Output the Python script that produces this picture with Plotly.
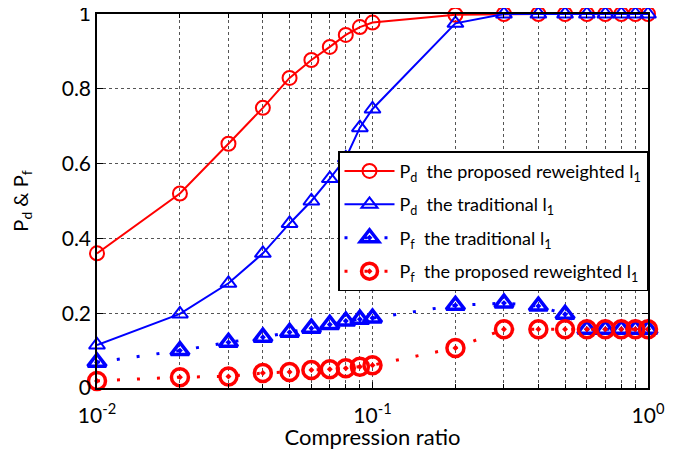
import plotly.graph_objects as go

ratio = [0.01, 0.02, 0.03, 0.04, 0.05, 0.06, 0.07, 0.08, 0.09, 0.1,
         0.2, 0.3, 0.4, 0.5, 0.6, 0.7, 0.8, 0.9, 1.0]
pd_proposed = [0.36, 0.52, 0.653, 0.749, 0.829, 0.877, 0.912, 0.944, 0.965, 0.977,
               0.998, 1.0, 1.0, 1.0, 1.0, 1.0, 1.0, 1.0, 1.0]
pd_traditional = [0.115, 0.198, 0.28, 0.36, 0.44, 0.50, 0.56, 0.615, 0.696, 0.746,
                  0.975, 1.0, 1.0, 1.0, 1.0, 1.0, 1.0, 1.0, 1.0]
pf_traditional = [0.069, 0.10, 0.122, 0.136, 0.149, 0.16, 0.17, 0.179, 0.184, 0.187,
                  0.221, 0.227, 0.219, 0.197, 0.157, 0.157, 0.157, 0.157, 0.157]
pf_proposed = [0.019, 0.029, 0.031, 0.04, 0.043, 0.048, 0.05, 0.053, 0.057, 0.061,
               0.107, 0.157, 0.157, 0.157, 0.157, 0.157, 0.157, 0.157, 0.157]

names = ["P<sub>d</sub>  the proposed reweighted l<sub>1</sub>",
         "P<sub>d</sub>  the traditional l<sub>1</sub>",
         "P<sub>f</sub>  the traditional l<sub>1</sub>",
         "P<sub>f</sub>  the proposed reweighted l<sub>1</sub>"]

xtick_vals = [0.01, 0.1, 1]
xtick_text = ["10<sup>-2</sup>", "10<sup>-1</sup>", "10<sup>0</sup>"]
xminor_vals = [0.02, 0.03, 0.04, 0.05, 0.06, 0.07, 0.08, 0.09,
               0.2, 0.3, 0.4, 0.5, 0.6, 0.7, 0.8, 0.9]
ytick_vals = [0, 0.2, 0.4, 0.6, 0.8, 1]
ytick_text = ["0", "0.2", "0.4", "0.6", "0.8", "1"]

RED = "#ff0000"
BLUE = "#0000ff"

fig = go.Figure()
fig.add_trace(go.Scatter(x=ratio, y=pd_proposed, name=names[0], mode="lines+markers",
                         legendgroup="a",
                         line=dict(color=RED, width=2),
                         marker=dict(symbol="circle-open", size=14, color=RED, line=dict(width=2)),
                         cliponaxis=False))
fig.add_trace(go.Scatter(x=ratio, y=pd_traditional, name=names[1], mode="lines+markers",
                         legendgroup="b",
                         line=dict(color=BLUE, width=2),
                         marker=dict(symbol="triangle-up-open", size=14, color=BLUE, line=dict(width=2)),
                         cliponaxis=False))
fig.add_trace(go.Scatter(x=ratio, y=pf_traditional, name=names[2], mode="lines+markers",
                         legendgroup="c",
                         line=dict(color=BLUE, width=3, dash="3px,17px"),
                         marker=dict(symbol="triangle-up-open-dot", size=16, color=BLUE, line=dict(width=3.5)),
                         cliponaxis=False))
fig.add_trace(go.Scatter(x=ratio, y=pf_proposed, name=names[3], mode="lines+markers",
                         legendgroup="d",
                         line=dict(color=RED, width=3, dash="3px,17px"),
                         marker=dict(symbol="circle-open-dot", size=17, color=RED, line=dict(width=3.5)),
                         cliponaxis=False))

FONT = "Lato"
# page body has an 8px default margin; figure sized so it fits the 678x458 window
fig.update_layout(
    template="none",
    width=662, height=442,
    margin=dict(l=89, r=22, t=6, b=62),
    paper_bgcolor="white", plot_bgcolor="white",
    font=dict(family=FONT, size=20, color="black"),
    showlegend=True,
    legend=dict(x=1, y=0.633, xanchor="right", yanchor="top",
                bgcolor="white", bordercolor="black", borderwidth=1.5,
                font=dict(family=FONT, size=18), itemwidth=50,
                traceorder="grouped", tracegroupgap=7),
)
grid = dict(showgrid=True, gridcolor="#555555", griddash="dot", gridwidth=1)
fig.update_xaxes(type="log", range=[-2, 0], automargin=False,
                 tickvals=xtick_vals, ticktext=xtick_text,
                 ticks="inside", ticklen=6, tickcolor="black", tickwidth=1,
                 showline=True, linecolor="black", linewidth=1.5, mirror="ticks",
                 minor=dict(tickvals=xminor_vals, ticks="inside", ticklen=4, tickcolor="black",
                            **grid),
                 ticklabelstandoff=8, ticklabeloverflow="allow",
                 title=dict(text="Compression ratio", font=dict(size=22), standoff=7),
                 tickfont=dict(size=21), zeroline=False, **grid)
fig.update_yaxes(range=[0, 1], automargin=False, tickvals=ytick_vals, ticktext=ytick_text,
                 ticks="inside", ticklen=6, tickcolor="black", tickwidth=1,
                 showline=True, linecolor="black", linewidth=1.5, mirror="ticks",
                 ticklabeloverflow="allow",
                 title=dict(text="P<sub>d</sub> & P<sub>f</sub>", font=dict(size=20), standoff=36),
                 tickfont=dict(size=21), zeroline=False, **grid)

fig.write_html("out.html")
